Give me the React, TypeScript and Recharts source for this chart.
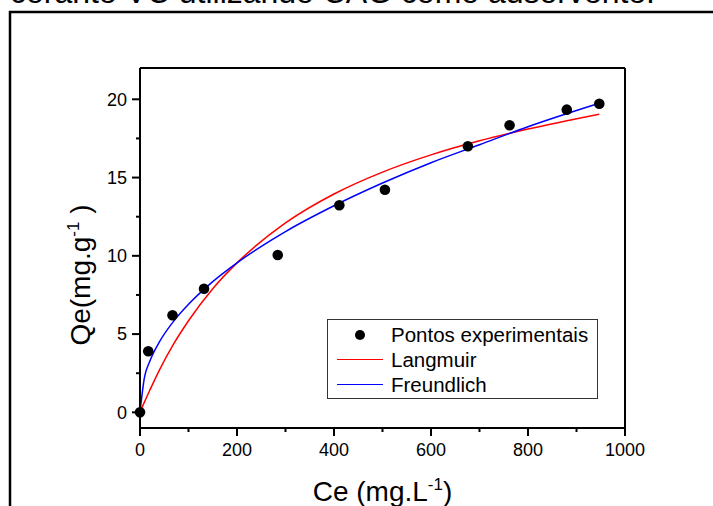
import { ComposedChart, Line, Scatter, XAxis, YAxis, Legend, ReferenceLine } from "recharts";

const FONT = "Arial, 'Liberation Sans', sans-serif";

// experimental points
const ceExp = [0, 17, 67, 132, 284, 411, 505, 676, 762, 880, 947];
const qeExp = [0, 3.9, 6.2, 7.9, 10.05, 13.23, 14.22, 17.0, 18.34, 19.34, 19.72];

// fitted curves
const ceFit = [0, 9, 20, 40, 70, 100, 150, 200, 300, 400, 500, 600, 700, 800, 947];
const qeLangmuir = [0, 0.65, 1.4, 2.7, 4.4, 5.85, 7.9, 9.55, 12.1, 13.95, 15.35, 16.45, 17.35, 18.1, 19.05];
const qeFreundlich = [0, 2.2, 3.25, 4.5, 5.85, 6.9, 8.35, 9.55, 11.55, 13.2, 14.65, 15.95, 17.1, 18.25, 19.75];

const xTicks = [0, 100, 200, 300, 400, 500, 600, 700, 800, 900, 1000];
const xMajor = [0, 200, 400, 600, 800, 1000];
const yTicks = [0, 2.5, 5, 7.5, 10, 12.5, 15, 17.5, 20];
const yMajor = [0, 5, 10, 15, 20];

const expData = ceExp.map((ce, i) => ({ ce, qe: qeExp[i] }));
const langData = ceFit.map((ce, i) => ({ ce, qe: qeLangmuir[i] }));
const freundData = ceFit.map((ce, i) => ({ ce, qe: qeFreundlich[i] }));

const TS = 8;
const XTM = 7;
const YTM = 5;

function XTick(props: any) {
  const { x, y, payload } = props;
  const major = xMajor.includes(payload.value);
  const y0 = y - TS - XTM;
  return (
    <g>
      <line x1={x} x2={x} y1={y0} y2={y0 + (major ? 8 : 4)} stroke="#000" strokeWidth={2} />
      {major && (
        <text x={x} y={y} dy="0.72em" textAnchor="middle" fontSize={18} fontFamily={FONT} fill="#000">
          {payload.value}
        </text>
      )}
    </g>
  );
}

function YTick(props: any) {
  const { x, y, payload } = props;
  const major = yMajor.includes(payload.value);
  const x0 = x + TS + YTM;
  return (
    <g>
      <line x1={x0} x2={x0 - (major ? 8 : 4)} y1={y} y2={y} stroke="#000" strokeWidth={2} />
      {major && (
        <text x={x} y={y} dy="0.35em" textAnchor="end" fontSize={18} fontFamily={FONT} fill="#000">
          {payload.value}
        </text>
      )}
    </g>
  );
}

function XLabel(props: any) {
  const { viewBox } = props;
  const cx = viewBox.x + viewBox.width / 2;
  return (
    <text x={cx} y={501} textAnchor="middle" fontSize={28} fontFamily={FONT} fill="#000">
      Ce (mg.L
      <tspan dy={-11} fontSize={17}>-1</tspan>
      <tspan dy={11}>)</tspan>
    </text>
  );
}

function YLabel(props: any) {
  const { viewBox } = props;
  const cy = viewBox.y + viewBox.height / 2 + 27;
  const lx = 90;
  return (
    <text x={lx} y={cy} textAnchor="middle" fontSize={28} fontFamily={FONT} fill="#000" transform={`rotate(-90 ${lx} ${cy})`}>
      Qe(mg.g
      <tspan dy={-11} fontSize={17}>-1</tspan>
      <tspan dy={11}> )</tspan>
    </text>
  );
}

function LegendBox() {
  const row = { display: "flex", alignItems: "center", height: 25 } as const;
  const sym = { width: 46, marginLeft: 9, marginRight: 8, display: "flex", justifyContent: "center", alignItems: "center" } as const;
  return (
    <div style={{ border: "1px solid #333", background: "#fff", paddingTop: 2, paddingBottom: 1, fontFamily: FONT, fontSize: 20.5, color: "#000", width: 269 }}>
      <div style={row}>
        <div style={sym}>
          <div style={{ width: 10, height: 10, borderRadius: 5, background: "#000" }} />
        </div>
        <span>Pontos experimentais</span>
      </div>
      <div style={row}>
        <div style={sym}>
          <div style={{ width: 46, height: 1.6, background: "#ff0000" }} />
        </div>
        <span>Langmuir</span>
      </div>
      <div style={row}>
        <div style={sym}>
          <div style={{ width: 46, height: 1.6, background: "#0000ff" }} />
        </div>
        <span>Freundlich</span>
      </div>
    </div>
  );
}

export default function App() {
  return (
    <div style={{ position: "absolute", left: 0, top: 0, width: 713, height: 506, overflow: "hidden", background: "#fff" }}>
      <ComposedChart width={713} height={506} margin={{ top: 68, right: 88, bottom: 0, left: 0 }}>
        <XAxis
          type="number"
          dataKey="ce"
          domain={[0, 1000]}
          ticks={xTicks}
          interval={0}
          height={78}
          tickSize={TS}
          tickMargin={XTM}
          tickLine={false}
          tick={(p: any) => <XTick {...p} />}
          axisLine={{ stroke: "#000", strokeWidth: 2 }}
          label={<XLabel />}
        />
        <YAxis
          type="number"
          dataKey="qe"
          domain={[-1, 22]}
          ticks={yTicks}
          interval={0}
          width={140}
          tickSize={TS}
          tickMargin={YTM}
          tickLine={false}
          tick={(p: any) => <YTick {...p} />}
          axisLine={{ stroke: "#000", strokeWidth: 2 }}
          label={<YLabel />}
        />
        <ReferenceLine y={22} stroke="#000" strokeWidth={2} />
        <ReferenceLine x={1000} stroke="#000" strokeWidth={2} />
        <Line data={langData} dataKey="qe" type="monotone" stroke="#ff0000" strokeWidth={1.5} dot={false} isAnimationActive={false} />
        <Line data={freundData} dataKey="qe" type="monotone" stroke="#0000ff" strokeWidth={1.5} dot={false} isAnimationActive={false} />
        <Scatter
          data={expData}
          dataKey="qe"
          fill="#000"
          isAnimationActive={false}
          shape={(p: any) => <circle cx={p.cx} cy={p.cy} r={5.3} fill="#000" />}
        />
        <Legend
          layout="vertical"
          align="center"
          verticalAlign="middle"
          content={() => <LegendBox />}
          wrapperStyle={{ left: 327, top: 319, width: 271 }}
        />
      </ComposedChart>
      <svg width={713} height={506} style={{ position: "absolute", left: 0, top: 0, pointerEvents: "none" }}>
        <text x={10} y={3} fontSize={32} fontFamily={FONT} fill="#000" textLength={645}>
          corante VC utilizando CAG como adsorvente.
        </text>
        <rect x={10} y={12} width={900} height={700} fill="none" stroke="#000" strokeWidth={2.5} />
      </svg>
    </div>
  );
}
